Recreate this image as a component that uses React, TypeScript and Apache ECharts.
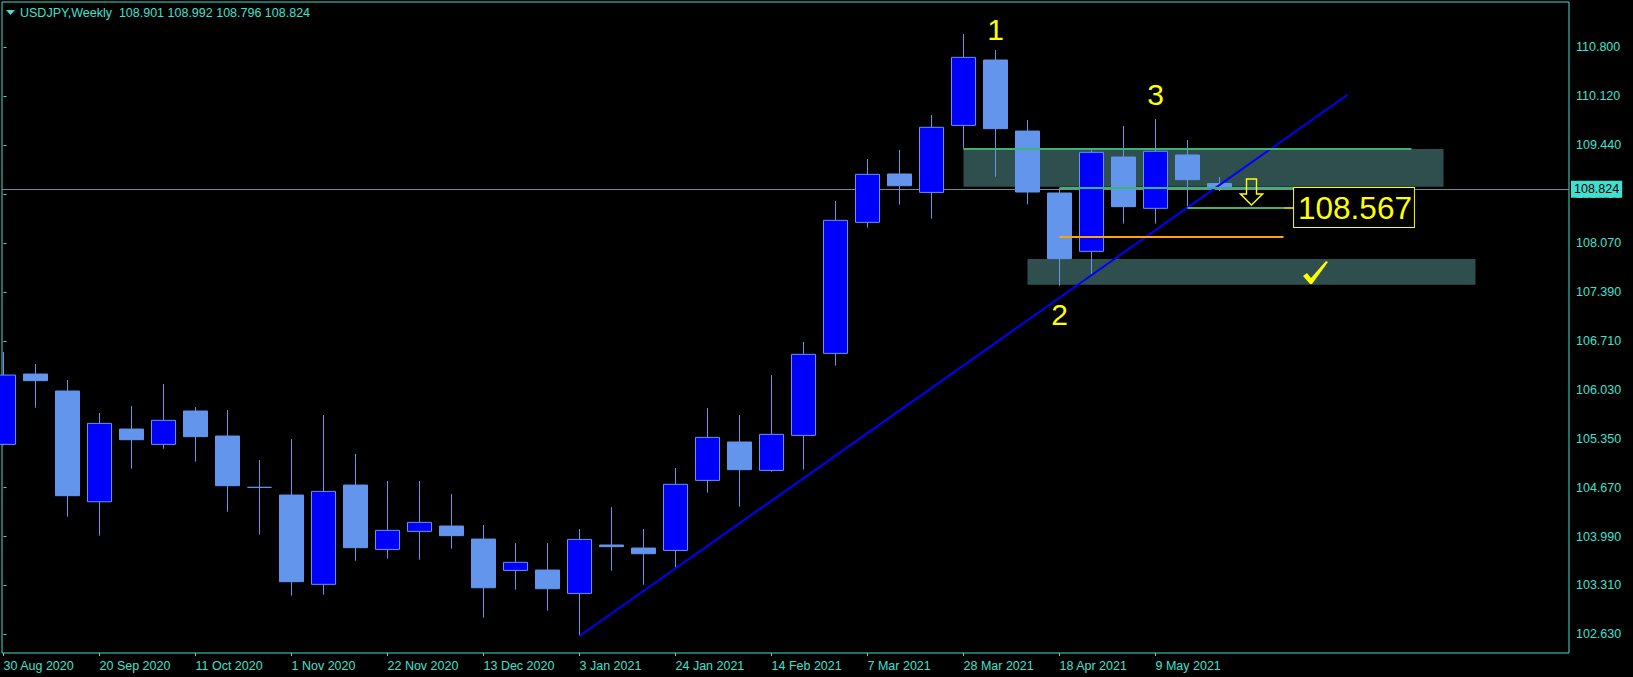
import React, { useEffect, useRef } from "react";
import * as echarts from "echarts";

// ---------- data ----------
const weeks = [
  "30 Aug 2020", "6 Sep 2020", "13 Sep 2020", "20 Sep 2020", "27 Sep 2020", "4 Oct 2020",
  "11 Oct 2020", "18 Oct 2020", "25 Oct 2020", "1 Nov 2020", "8 Nov 2020", "15 Nov 2020",
  "22 Nov 2020", "29 Nov 2020", "6 Dec 2020", "13 Dec 2020", "20 Dec 2020", "27 Dec 2020",
  "3 Jan 2021", "10 Jan 2021", "17 Jan 2021", "24 Jan 2021", "31 Jan 2021", "7 Feb 2021",
  "14 Feb 2021", "21 Feb 2021", "28 Feb 2021", "7 Mar 2021", "14 Mar 2021", "21 Mar 2021",
  "28 Mar 2021", "4 Apr 2021", "11 Apr 2021", "18 Apr 2021", "25 Apr 2021", "2 May 2021",
  "9 May 2021", "16 May 2021", "23 May 2021",
];
const opens = [
  105.273, 106.251, 106.015, 104.475, 105.486, 105.273, 105.737, 105.389, 104.675, 104.568,
  103.326, 104.707, 103.812, 104.063, 104.137, 103.956, 103.520, 103.525, 103.200, 103.873,
  103.831, 103.798, 104.772, 105.306, 104.911, 105.398, 106.539, 108.361, 109.034, 108.778,
  109.710, 110.619, 109.631, 108.769, 107.958, 109.270, 108.556, 109.298, 108.901,
];
const closes = [
  106.237, 106.159, 104.559, 105.565, 105.338, 105.607, 105.380, 104.698, 104.675, 103.363,
  104.619, 103.836, 104.077, 104.188, 104.003, 103.279, 103.632, 103.265, 103.951, 103.850,
  103.752, 104.717, 105.370, 104.921, 105.412, 106.525, 108.389, 109.029, 108.871, 109.683,
  110.656, 109.664, 108.783, 107.856, 109.335, 108.579, 109.349, 108.955, 108.824,
];
const lows = [
  105.260, 105.783, 104.267, 104.003, 104.935, 105.213, 105.032, 104.336, 104.016, 103.168,
  103.182, 103.655, 103.682, 103.669, 103.822, 102.862, 103.251, 102.959, 102.607, 103.516,
  103.321, 103.553, 104.601, 104.406, 104.893, 104.921, 106.367, 108.287, 108.607, 108.412,
  109.386, 108.996, 108.612, 107.480, 107.642, 108.343, 108.343, 108.579, 108.796,
];
const highs = [
  106.557, 106.390, 106.168, 105.709, 105.806, 106.112, 105.792, 105.751, 105.055, 105.347,
  105.681, 105.139, 104.763, 104.763, 104.582, 104.151, 103.900, 103.900, 104.095, 104.401,
  104.095, 104.944, 105.778, 105.681, 106.237, 106.697, 108.658, 109.242, 109.367, 109.854,
  110.981, 110.758, 109.784, 108.834, 109.367, 109.701, 109.798, 109.506, 108.992,
];

const xTickIndices = [0, 3, 6, 9, 12, 15, 18, 21, 24, 27, 30, 33, 36];
const priceTicks = [
  102.63, 103.31, 103.99, 104.67, 105.35, 106.03, 106.71, 107.39, 108.07, 108.75, 109.44,
  110.12, 110.8,
];
const lastPrice = 108.824;
const titleText = "USDJPY,Weekly  108.901 108.992 108.796 108.824";

const trendLine = [
  [18, 102.607],
  [42, 110.136],
];
const upperZone = [
  [30, 109.381],
  [45, 108.857],
];
const lowerZone = [
  [32, 107.851],
  [46, 107.494],
];
const greenLevel1 = [[30, 109.391], [44, 109.391]];
const greenLevel2 = [[33, 108.843], [40.33, 108.843]];
const greenLevel3 = [[37, 108.567], [40, 108.567]];
const connector = [[40, 108.567], [40.33, 108.567]];
const orangeLevel = [[33, 108.161], [40, 108.161]];
const targetLabel = { text: "108.567", at: [40.33, 108.567] };
const waveLabels = [
  { text: "1", at: [31, 111.04] },
  { text: "2", at: [33, 107.086] },
  { text: "3", at: [36, 110.146] },
];
const arrowAt = [39, 108.783];
const checkAt = [41, 107.663];

// ---------- styling ----------
const AXIS = "#40E0D0";
const YELLOW = "#FFFF00";
const FONT = "Liberation Sans";

const seg = (pts: number[][], color: string, width: number) => [
  { coord: pts[0], lineStyle: { color, width, type: "solid" } },
  { coord: pts[1] },
];

export default function App() {
  const ref = useRef<HTMLDivElement>(null);

  useEffect(() => {
    if (!ref.current) return;
    const chart = echarts.init(ref.current, undefined, { renderer: "svg" });

    const candles = weeks.map((_, i) => [i, opens[i], closes[i], lows[i], highs[i]]);

    const option: any = {
      animation: false,
      backgroundColor: "#000",
      title: {
        text: titleText,
        left: 20,
        top: 6,
        padding: 0,
        textStyle: { color: AXIS, fontSize: 12.5, fontWeight: "normal", fontFamily: FONT },
      },
      graphic: [
        {
          type: "polygon",
          shape: { points: [[6, 10], [15, 10], [10.5, 15]] },
          style: { fill: AXIS },
        },
      ],
      grid: {
        left: 2,
        right: 64,
        top: 2,
        bottom: 24,
        show: true,
        borderColor: AXIS,
        borderWidth: 1,
        backgroundColor: "#000",
        containLabel: false,
        outerBoundsMode: "none",
      },
      xAxis: {
        type: "value",
        min: -0.046875,
        max: 48.921875,
        splitLine: { show: false },
        axisLine: { show: false },
        axisTick: {
          show: true,
          length: 3,
          customValues: xTickIndices,
          lineStyle: { color: AXIS },
        },
        axisLabel: {
          customValues: xTickIndices,
          formatter: (v: number) => weeks[Math.round(v)] || "",
          color: AXIS,
          fontSize: 12.5,
          fontFamily: FONT,
          align: "left",
          margin: 6,
        },
      },
      yAxis: {
        type: "value",
        position: "right",
        min: 102.371,
        max: 111.426,
        scale: true,
        splitLine: { show: false },
        axisLine: { show: false },
        axisTick: {
          show: true,
          length: 3,
          customValues: priceTicks,
          lineStyle: { color: AXIS },
        },
        axisLabel: {
          customValues: priceTicks,
          formatter: (v: number) => v.toFixed(3),
          color: AXIS,
          fontSize: 12.5,
          fontFamily: FONT,
          align: "left",
          margin: 7,
        },
      },
      series: [
        {
          type: "candlestick",
          name: "USDJPY",
          z: 2,
          barWidth: 24,
          data: candles,
          itemStyle: {
            color: "#0000FF",
            color0: "#6495ED",
            borderColor: "#6495ED",
            borderColor0: "#6495ED",
            borderColorDoji: "#6495ED",
            borderWidth: 1,
          },
          markArea: {
            silent: true,
            z: 1,
            itemStyle: { color: "#2F4F4F", opacity: 1 },
            label: { show: false },
            data: [
              [{ coord: upperZone[0] }, { coord: upperZone[1] }],
              [{ coord: lowerZone[0] }, { coord: lowerZone[1] }],
            ],
          },
          markLine: {
            silent: true,
            z: 1,
            symbol: ["none", "none"],
            lineStyle: { color: "#778899", width: 1, type: "solid" },
            label: {
              show: true,
              position: "end",
              distance: 2,
              formatter: () => lastPrice.toFixed(3),
              color: "#000",
              backgroundColor: "#40E0D0",
              padding: [2, 3, 2, 3],
              fontSize: 12.5,
              lineHeight: 13,
              fontFamily: FONT,
            },
            data: [{ yAxis: lastPrice }],
          },
        },
        {
          type: "line",
          name: "trend",
          z: 3,
          data: trendLine,
          symbol: "none",
          lineStyle: { color: "#0000FF", width: 2 },
          markLine: {
            silent: true,
            z: 5,
            symbol: ["none", "none"],
            label: { show: false },
            data: [
              seg(greenLevel1, "#3CB371", 2),
              seg(greenLevel2, "#3CB371", 2),
              seg(greenLevel3, "#3CB371", 2),
              seg(connector, YELLOW, 1.5),
              seg(orangeLevel, "#FFA500", 2),
            ],
          },
          markPoint: {
            silent: true,
            z: 6,
            data: [
              ...waveLabels.map((w) => ({
                coord: w.at,
                symbol: "circle",
                symbolSize: 1,
                itemStyle: { color: "rgba(0,0,0,0)" },
                label: {
                  show: true,
                  position: "inside",
                  formatter: w.text,
                  color: YELLOW,
                  fontSize: 30,
                  fontFamily: FONT,
                },
              })),
              {
                coord: targetLabel.at,
                symbol: "circle",
                symbolSize: 0,
                itemStyle: { color: "rgba(0,0,0,0)" },
                label: {
                  show: true,
                  position: "right",
                  distance: 0,
                  formatter: targetLabel.text,
                  color: YELLOW,
                  fontSize: 31.5,
                  lineHeight: 37,
                  fontFamily: FONT,
                  backgroundColor: "#000",
                  borderColor: YELLOW,
                  borderWidth: 1,
                  padding: [1, 2, 1, 4],
                },
              },
              {
                coord: arrowAt,
                symbol: "path://M6,0L16,0L16,15L22,15L11,26L0,15L6,15Z",
                symbolSize: [22, 26],
                itemStyle: { color: "rgba(0,0,0,0)", borderColor: YELLOW, borderWidth: 1.5 },
                label: { show: false },
              },
              {
                coord: checkAt,
                symbol: "path://M0,15L4,12L8,17L23,0L25,1L9,23L7,23Z",
                symbolSize: [25, 23],
                itemStyle: { color: YELLOW },
                label: { show: false },
              },
            ],
          },
        },
      ],
    };

    chart.setOption(option);
    return () => chart.dispose();
  }, []);

  return (
    <div
      ref={ref}
      style={{ position: "fixed", left: 0, top: 0, width: 1633, height: 677, background: "#000" }}
    />
  );
}
